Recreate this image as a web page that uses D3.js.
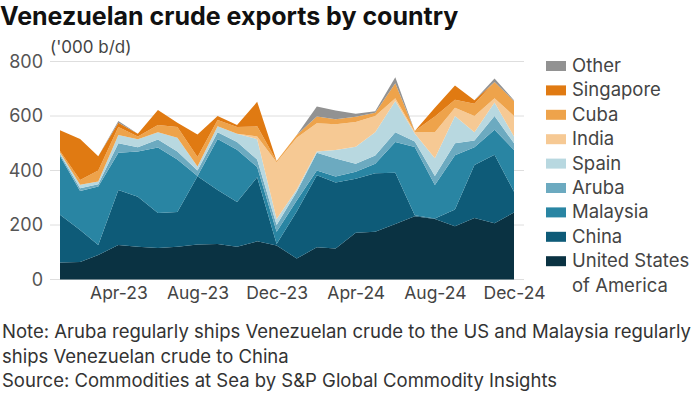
<!DOCTYPE html>
<html>
<head>
<meta charset="utf-8">
<script src="https://cdn.jsdelivr.net/npm/d3@7"></script>
<style>
  body { margin: 0; background: #fff; }
  svg { display: block; font-family: Inter, Roboto, sans-serif; }
</style>
</head>
<body>
<div id="chart"></div>
<script>
// monthly data, '000 b/d
var months = ["2023-01","2023-02","2023-03","2023-04","2023-05","2023-06","2023-07","2023-08","2023-09","2023-10","2023-11","2023-12",
              "2024-01","2024-02","2024-03","2024-04","2024-05","2024-06","2024-07","2024-08","2024-09","2024-10","2024-11","2024-12"];

var usa       = [62,64,90,127,120,116,120,128,130,120,140,125,77,118,114,172,175,204,232,222,195,226,206,246];
var china     = [176,118,37,201,184,128,128,251,198,164,235,5,173,265,242,198,215,188,4,2,62,194,252,76];
var malaysia  = [215,143,214,137,166,240,192,1,188,192,38,45,40,17,22,25,35,113,250,123,199,65,92,153];
var aruba     = [7,10,9,35,15,30,30,20,24,29,27,25,32,65,66,30,30,35,20,33,44,25,50,25];
var spain     = [6,13,10,30,30,26,50,15,22,30,75,22,8,5,31,62,85,115,30,65,100,30,50,25];
var india     = [0,0,0,0,0,0,0,0,0,0,10,208,190,103,95,91,60,10,5,95,30,60,15,75];
var cuba      = [6,17,40,30,10,27,40,35,23,25,37,5,10,25,18,19,12,55,4,58,30,45,60,55];
var singapore = [76,151,52,15,10,55,15,82,15,7,90,0,0,0,0,0,0,0,0,32,52,13,0,0];
var other     = [0,0,0,7,0,0,0,0,0,0,0,0,0,37,32,11,5,22,0,0,0,0,13,3];

var seriesNames = ["United States of America","China","Malaysia","Aruba","Spain","India","Cuba","Singapore","Other"];
var seriesValues = [usa, china, malaysia, aruba, spain, india, cuba, singapore, other];
var colors = ["#0a3242","#0e5b78","#2985a3","#6caac0","#b8d8e0","#f6c994","#eea34b","#e07a12","#929292"];

var yTicks = [0, 200, 400, 600, 800];
var xTickLabels = ["2023-04","2023-08","2023-12","2024-04","2024-08","2024-12"];

var width = 700, height = 398;
var parse = d3.timeParse("%Y-%m");

var table = months.map(function(m, i) {
    var row = {date: parse(m)};
    seriesNames.forEach(function(n, j) { row[n] = seriesValues[j][i]; });
    return row;
});

var svg = d3.select("#chart").append("svg")
    .attr("width", width)
    .attr("height", height);

var x = d3.scaleTime()
    .domain(d3.extent(table, function(d) { return d.date; }))
    .range([60, 514]);

var y = d3.scaleLinear()
    .domain([0, 800])
    .range([279.5, 61.5]);

// gridlines
svg.append("g")
    .selectAll("line")
    .data(yTicks)
    .enter().append("line")
    .attr("x1", 50).attr("x2", 524)
    .attr("y1", function(d) { return y(d); })
    .attr("y2", function(d) { return y(d); })
    .attr("stroke", "#dedede")
    .attr("stroke-width", 1);

// stacked areas
var stack = d3.stack().keys(seriesNames);
var layers = stack(table);

var area = d3.area()
    .x(function(d) { return x(d.data.date); })
    .y0(function(d) { return y(d[0]); })
    .y1(function(d) { return y(d[1]); });

svg.append("g")
    .selectAll("path")
    .data(layers)
    .enter().append("path")
    .attr("d", area)
    .attr("fill", function(d, i) { return colors[i]; });

// y axis labels
var yAxis = svg.append("g")
    .attr("transform", "translate(43,0)")
    .call(d3.axisLeft(y).tickValues(yTicks).tickSize(0).tickPadding(0));
yAxis.select(".domain").remove();
yAxis.selectAll("text")
    .attr("font-size", "18px")
    .attr("font-family", "Inter, sans-serif")
    .attr("fill", "#555");

// x axis labels
var xAxis = svg.append("g")
    .attr("transform", "translate(0,287)")
    .call(d3.axisBottom(x)
        .tickValues(xTickLabels.map(parse))
        .tickFormat(d3.timeFormat("%b-%y"))
        .tickSize(0).tickPadding(0));
xAxis.select(".domain").remove();
xAxis.selectAll("text")
    .attr("font-size", "17.5px")
    .attr("font-family", "Inter, sans-serif")
    .attr("fill", "#444");

// title
svg.append("text")
    .attr("x", 0)
    .attr("y", 25)
    .attr("font-size", "25px")
    .attr("font-weight", "bold")
    .attr("fill", "#111")
    .text("Venezuelan crude exports by country");

svg.append("text")
    .attr("x", 50)
    .attr("y", 53)
    .attr("font-size", "17px")
    .attr("fill", "#444")
    .text("('000 b/d)");

// legend, top to bottom
var legendItems = seriesNames.map(function(n, i) { return {name: n, color: colors[i]}; }).reverse();
var legend = svg.append("g").attr("transform", "translate(546,0)");
legendItems.forEach(function(d, i) {
    var cy = 66 + i * 24.4;
    legend.append("rect")
        .attr("x", 0).attr("y", cy - 5)
        .attr("width", 20).attr("height", 10)
        .attr("fill", d.color);
    var t = legend.append("text")
        .attr("x", 26).attr("y", cy + 6)
        .attr("font-size", "18.5px")
        .attr("fill", "#444");
    if (d.name === "United States of America") {
        t.append("tspan").text("United States");
        t.append("tspan").attr("x", 26).attr("dy", 24.4).text("of America");
    } else {
        t.text(d.name);
    }
});

// notes
var notes = ["Note: Aruba regularly ships Venezuelan crude to the US and Malaysia regularly",
             "ships Venezuelan crude to China",
             "Source: Commodities at Sea by S&P Global Commodity Insights"];
svg.append("g")
    .selectAll("text")
    .data(notes)
    .enter().append("text")
    .attr("x", 2)
    .attr("y", function(d, i) { return 338 + i * 24.5; })
    .attr("font-size", "18.5px")
    .attr("fill", "#333")
    .text(function(d) { return d; });
</script>
</body>
</html>
